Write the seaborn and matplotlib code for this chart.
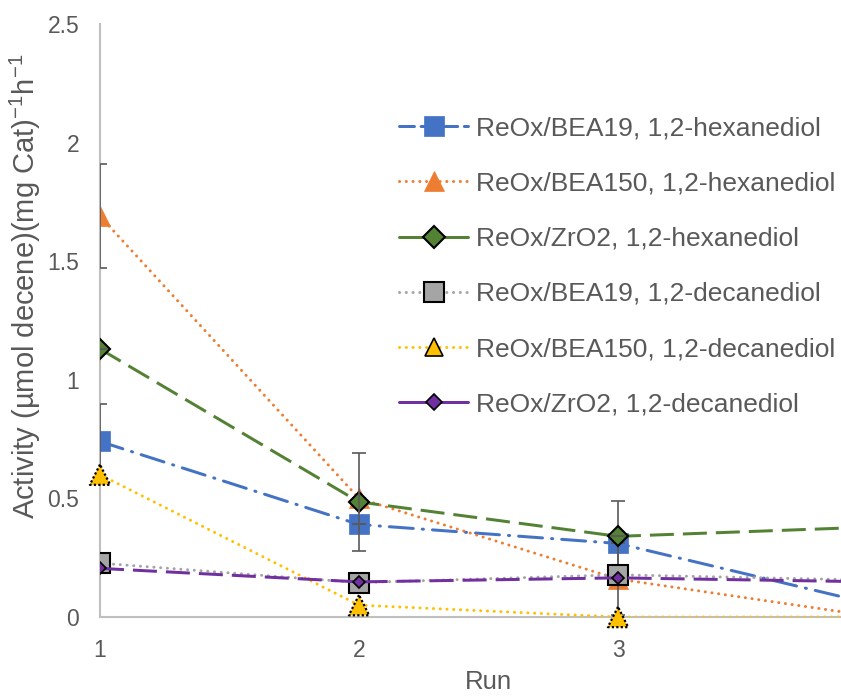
import matplotlib
matplotlib.use("Agg")
import matplotlib.pyplot as plt
from matplotlib.lines import Line2D
import seaborn as sns
import pandas as pd
import numpy as np

# Activity per run for each catalyst / substrate pair
runs = [1, 2, 3, 4]
bea19_hex = [0.74, 0.39, 0.31, 0.05]
bea150_hex = [1.69, 0.50, 0.16, 0.0]
zro2_hex = [1.13, 0.485, 0.34, 0.38]
bea19_dec = [0.227, 0.145, 0.178, 0.155]
bea150_dec = [0.60, 0.05, 0.0, 0.0]
zro2_dec = [0.205, 0.148, 0.165, 0.148]

# Standard deviations (0 where no bar is drawn)
bea19_hex_err = [0.156, 0.0, 0.18, 0.0]
bea150_hex_err = [0.22, 0.0, 0.15, 0.0]
zro2_hex_err = [0.0, 0.205, 0.0, 0.0]

labels = [
    "ReOx/BEA19, 1,2-hexanediol",
    "ReOx/BEA150, 1,2-hexanediol",
    "ReOx/ZrO2, 1,2-hexanediol",
    "ReOx/BEA19, 1,2-decanediol",
    "ReOx/BEA150, 1,2-decanediol",
    "ReOx/ZrO2, 1,2-decanediol",
]

sns.set_theme(style="white")
plt.rcParams["font.family"] = ["Liberation Sans", "DejaVu Sans"]
plt.rcParams["mathtext.fontset"] = "custom"
plt.rcParams["mathtext.rm"] = "Liberation Sans"
plt.rcParams["mathtext.it"] = "Liberation Sans"

W, H = 841, 696
fig = plt.figure(figsize=(W / 100, H / 100), dpi=100)
ax = fig.add_axes([100 / W, (H - 617) / H, (W - 100) / W, (617 - 24) / H])
xmax = 1 + (W - 100) / 259

LW = 2.16
text_grey = "#595959"
dot = (0, (0.05, 2.2))
styles = [
    dict(color="#4472C4", linestyle=(0, (8, 3, 0.4, 3)), dash_capstyle="round", marker="s",
         markersize=14, markerfacecolor="#4472C4", markeredgecolor="#4472C4",
         markeredgewidth=0.5),
    dict(color="#ED7D31", linestyle=dot, dash_capstyle="round", marker="^", markersize=15,
         markerfacecolor="#ED7D31", markeredgecolor="#ED7D31", markeredgewidth=0.5),
    dict(color="#548235", linestyle=(0, (8, 3)), marker="D", markersize=10,
         markerfacecolor="#548235", markeredgecolor="black", markeredgewidth=1.5),
    dict(color="#A5A5A5", linestyle=dot, dash_capstyle="round", marker="s", markersize=14,
         markerfacecolor="#A5A5A5", markeredgecolor="black", markeredgewidth=1.5),
    dict(color="#FFC000", linestyle=dot, dash_capstyle="round", marker="None"),
    dict(color="#7030A0", linestyle=(0, (8, 3)), marker="D", markersize=6.5,
         markerfacecolor="#7030A0", markeredgecolor="black", markeredgewidth=1.2),
]
# legend keys: short segments, so the long dashes read as solid strokes
legend_styles = [
    dict(linestyle=(0, (5, 2.2))),
    dict(),
    dict(linestyle="-", markersize=11),
    dict(),
    dict(),
    dict(linestyle="-", markersize=8),
]
series = [bea19_hex, bea150_hex, zro2_hex, bea19_dec, bea150_dec, zro2_dec]
errors = {0: bea19_hex_err, 1: bea150_hex_err, 2: zro2_hex_err}

handles = []
for i, (vals, lab, st) in enumerate(zip(series, labels, styles)):
    df = pd.DataFrame({"Run": runs, "Activity": vals})
    sns.lineplot(data=df, x="Run", y="Activity", ax=ax, lw=LW, zorder=3 + i,
                 legend=False, **st)
    key = dict(st)
    if i == 4:
        # triangles with a dotted black outline, for the runs inside the axis range
        r = np.array(runs, dtype=float)
        v = np.array(vals, dtype=float)
        keep = r <= xmax
        ax.scatter(r[keep], v[keep], marker="^", s=15 ** 2 * 0.95, facecolor="#FFC000",
                   edgecolor="black", linewidths=1.6, linestyle=(0, (1, 1)),
                   zorder=3 + i + 0.5, clip_on=False)
        key.update(marker="^", markersize=13, markerfacecolor="#FFC000",
                   markeredgecolor="black", markeredgewidth=1.2)
    key.update(legend_styles[i])
    handles.append(Line2D([], [], lw=LW, **key))
    if i in errors:
        ax.errorbar(runs, vals, yerr=errors[i], fmt="none", ecolor=text_grey,
                    elinewidth=1.2, capsize=5, capthick=1.2, zorder=3 + i + 0.2)

ax.set_xlim(1, xmax)
ax.set_ylim(0, 2.5)
ax.set_xticks([1, 2, 3])
ax.set_yticks([0, 0.5, 1, 1.5, 2, 2.5])
ax.set_yticklabels(["0", "0.5", "1", "1.5", "2", "2.5"])
ax.tick_params(axis="both", length=0, labelsize=16.5, colors=text_grey)
ax.tick_params(axis="x", pad=16)
ax.tick_params(axis="y", pad=15)
for side in ["top", "right"]:
    ax.spines[side].set_visible(False)
for side in ["left", "bottom"]:
    ax.spines[side].set_color("#BFBFBF")
    ax.spines[side].set_linewidth(1.5)
    ax.spines[side].set_zorder(1)

ax.set_xlabel("Run", fontsize=18.5, color=text_grey)
ax.xaxis.set_label_coords((488 - 100) / (W - 100), -0.089)
ax.set_ylabel(r"Activity (µmol decene)(mg Cat)$^{\mathregular{-1}}$h$^{\mathregular{-1}}$",
              fontsize=21, color=text_grey)
ax.yaxis.set_label_coords(-0.077, (617 - 286) / 593)

leg = ax.legend(handles, labels, loc="upper left",
                bbox_to_anchor=((388 - 100) / (W - 100), (617 - 106) / 593),
                frameon=False, fontsize=19, labelcolor=text_grey,
                handlelength=2.65, handletextpad=0.3, labelspacing=1.18,
                borderaxespad=0)

fig.savefig("out.png", dpi=100)
